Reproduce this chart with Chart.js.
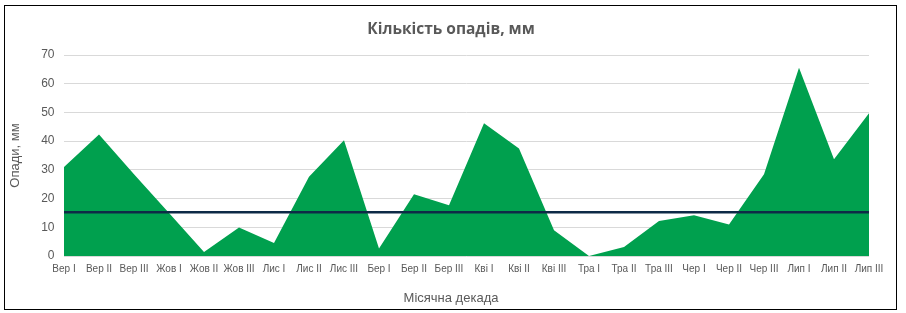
<!DOCTYPE html>
<html>
<head>
<meta charset="utf-8">
<script src="https://cdn.jsdelivr.net/npm/chart.js@4.4.1/dist/chart.umd.min.js"></script>
<style>
  html, body { margin: 0; padding: 0; background: #fff; }
  #wrap { width: 906px; height: 313px; position: relative; }
</style>
</head>
<body>
<div id="wrap"><canvas id="rainChart" width="906" height="313"></canvas></div>
<script>
// Decade labels (September..July)
const decades = ['Вер I', 'Вер II', 'Вер III', 'Жов I', 'Жов II', 'Жов III', 'Лис I', 'Лис II', 'Лис III',
  'Бер I', 'Бер II', 'Бер III', 'Кві I', 'Кві II', 'Кві III', 'Тра I', 'Тра II', 'Тра III',
  'Чер I', 'Чер II', 'Чер III', 'Лип I', 'Лип II', 'Лип III'];

// Precipitation per decade, mm
const precipitation = [31.0, 42.3, 28.5, 15.0, 1.4, 9.9, 4.5, 27.6, 40.3,
  2.6, 21.5, 17.7, 46.2, 37.4, 9.0, 0.0, 3.1, 12.2,
  14.2, 11.0, 28.5, 65.6, 33.7, 49.7];

// Reference (norm) line, mm
const normLine = [15.2, 15.2, 15.2, 15.2, 15.2, 15.2, 15.2, 15.2, 15.2, 15.2, 15.2, 15.2,
  15.2, 15.2, 15.2, 15.2, 15.2, 15.2, 15.2, 15.2, 15.2, 15.2, 15.2, 15.2];

const yTicks = [0, 10, 20, 30, 40, 50, 60, 70];

const GREEN = '#00a04e';
const NAVY = '#0e2a47';
const GREY_TEXT = '#595959';

// Background + outer frame
const framePlugin = {
  id: 'frame',
  beforeDraw(chart) {
    const ctx = chart.ctx;
    ctx.save();
    ctx.fillStyle = '#fff';
    ctx.fillRect(0, 0, chart.width, chart.height);
    ctx.restore();
  },
  afterDraw(chart) {
    const ctx = chart.ctx;
    ctx.save();
    ctx.strokeStyle = '#000';
    ctx.lineWidth = 1;
    ctx.strokeRect(4.5, 5.5, 892, 304);
    ctx.restore();
  }
};

new Chart(document.getElementById('rainChart'), {
  type: 'line',
  data: {
    labels: decades,
    datasets: [
      { label: 'Опади', data: precipitation, fill: 'origin', backgroundColor: GREEN, borderWidth: 0, borderColor: GREEN, pointRadius: 0, tension: 0, order: 2 },
      { label: 'Норма', data: normLine, fill: false, borderColor: NAVY, borderWidth: 2.5, pointRadius: 0, tension: 0, order: 1 }
    ]
  },
  options: {
    responsive: false,
    animation: false,
    layout: { padding: { left: 0, right: 4, top: 0, bottom: 0 } },
    plugins: {
      legend: { display: false },
      tooltip: { enabled: false },
      title: {
        display: true,
        text: 'Кількість опадів, мм',
        color: GREY_TEXT,
        font: { family: 'Open Sans', size: 15.5, weight: 'bold', lineHeight: 1.2 },
        padding: { top: 20, bottom: 16.4 }
      },
      subtitle: {
        display: true,
        position: 'bottom',
        text: 'Місячна декада',
        color: GREY_TEXT,
        font: { family: 'Liberation Sans', size: 13, lineHeight: 1.2 },
        padding: { top: 0, bottom: 7.2 }
      }
    },
    scales: {
      x: {
        offset: false,
        grid: { display: false, drawTicks: false },
        border: { display: false },
        ticks: { color: GREY_TEXT, font: { family: 'Liberation Sans', size: 10 }, padding: 7, maxRotation: 0, autoSkip: false },
        afterFit(scale) { scale.height = 313 - 256 - 22.8; }
      },
      y: {
        min: yTicks[0],
        max: yTicks[yTicks.length - 1],
        afterBuildTicks(scale) { scale.ticks = yTicks.map(v => ({ value: v })); },
        grid: { color: '#d9d9d9', drawTicks: false },
        border: { display: false },
        ticks: { color: GREY_TEXT, font: { family: 'Liberation Sans', size: 12 }, padding: 9.5 },
        title: { display: true, text: 'Опади, мм', color: GREY_TEXT, font: { family: 'Liberation Sans', size: 13 }, padding: { top: 8, bottom: 0 } },
        afterFit(scale) { scale.width = 64; }
      },
      // empty right-side spacer so the plot ends where the reference does
      yRight: {
        position: 'right',
        display: true,
        grid: { display: false, drawTicks: false },
        border: { display: false },
        ticks: { display: false },
        afterFit(scale) { scale.width = 33; }
      }
    }
  },
  plugins: [framePlugin]
});
</script>
</body>
</html>
